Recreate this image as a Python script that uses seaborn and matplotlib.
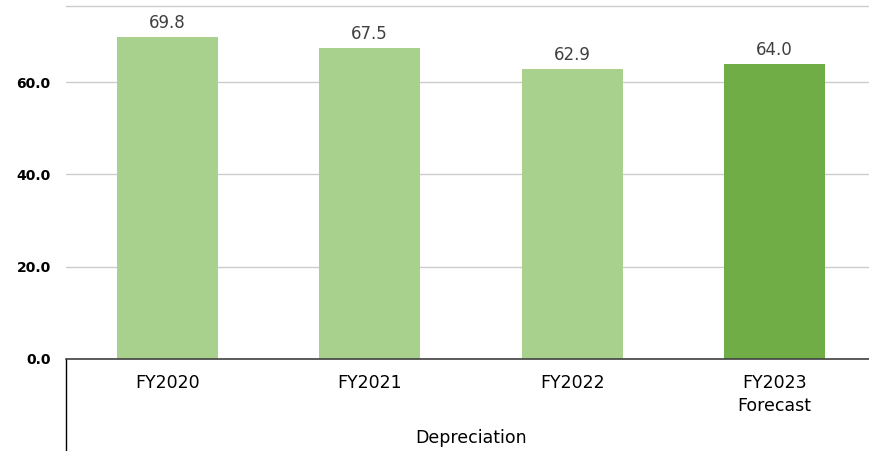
import matplotlib
matplotlib.use("Agg")
import matplotlib.pyplot as plt
import seaborn as sns
from matplotlib.lines import Line2D

categories = ["FY2020", "FY2021", "FY2022", "FY2023\nForecast"]
values = [69.8, 67.5, 62.9, 64.0]
colors = ["#A9D18E", "#A9D18E", "#A9D18E", "#70AD47"]
group_label = "Depreciation"
yticks = [0, 20, 40, 60]

sns.set_style("white")
plt.rcParams['font.family'] = ['DejaVu Sans']

fig = plt.figure(figsize=(8.7, 4.51), dpi=100)
W, H = 870, 451
ax = fig.add_axes([66 / W, (H - 359) / H, 810 / W, 353 / H])

sns.barplot(x=categories, y=values, hue=categories, palette=colors,
            legend=False, width=0.5, ax=ax, saturation=1, order=categories,
            linewidth=0, edgecolor="none")

ax.set_xlim(-0.5, 3.5)
ax.set_ylim(0, 76.5)
ax.set_yticks(yticks)
ax.set_yticklabels([f"{v:.1f}" for v in yticks], fontsize=10, fontweight="bold", color="#000000")
ax.tick_params(axis="y", length=0, pad=11)
ax.tick_params(axis="x", length=0, pad=11, labelcolor="#000000")
for lbl in ax.get_xticklabels():
    lbl.set_fontsize(12.5)
    lbl.set_linespacing(1.35)
ax.set_xlabel("")
ax.set_ylabel("")
ax.yaxis.grid(True, color="#CCCCCC", linewidth=1)
ax.set_axisbelow(True)

for s in ["left", "right"]:
    ax.spines[s].set_visible(False)
ax.spines["top"].set_color("#CCCCCC")
ax.spines["top"].set_linewidth(1)
ax.spines["bottom"].set_color("#404040")
ax.spines["bottom"].set_linewidth(1.2)

for i, v in enumerate(values):
    ax.annotate(f"{v:.1f}", (i, v), xytext=(0, 3.5), textcoords="offset points",
                ha="center", va="bottom", fontsize=12, color="#404040")

ax.add_line(Line2D([0, 0], [0, -92 / 353], transform=ax.transAxes,
                   color="#000000", linewidth=1, clip_on=False))
ax.text(0.5, -79 / 353, group_label, transform=ax.transAxes, ha="center",
        va="center", fontsize=12.5, color="#000000")

fig.savefig("out.png", dpi=100)
